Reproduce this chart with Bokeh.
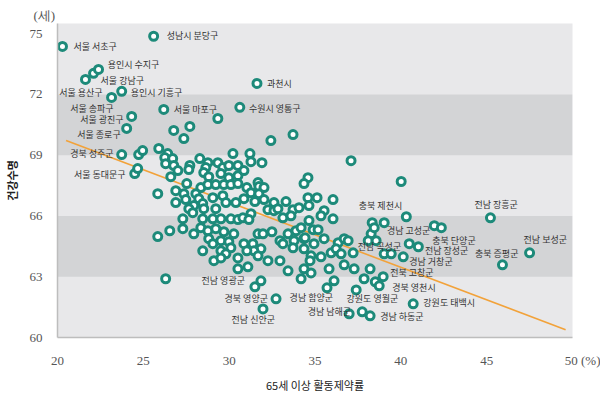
from bokeh.plotting import figure
from bokeh.models import Range1d, BoxAnnotation, ColumnDataSource, FixedTicker
from bokeh.embed import file_html
from bokeh.resources import INLINE
from bokeh.core.properties import value

# 65세 이상 활동제약률 (%)
x_rate = [
    20.29, 25.60, 21.63, 22.10, 22.39, 23.15, 23.74, 24.32, 24.03, 26.19, 30.62, 31.62,
    23.74, 24.50, 24.67, 24.73, 24.96, 25.90, 26.77, 27.71, 27.36, 29.34, 32.43, 33.72,
    37.10, 40.02, 34.59, 34.36, 40.32, 45.22, 41.95, 42.36, 47.50, 45.92, 40.72, 26.30,
    26.42, 26.25, 26.71, 26.30, 26.77, 27.01, 26.60, 27.71, 27.65, 28.29,
    28.76, 28.64, 28.52, 28.81, 29.34, 29.63, 29.98, 30.22, 30.51, 29.52,
    29.98, 30.51, 27.53, 28.35, 28.76, 29.22, 29.69, 30.10, 30.51, 25.84,
    26.89, 27.36, 26.89, 27.47, 28.06, 28.23, 28.46, 29.05, 29.63, 29.81,
    30.39, 27.94, 27.65, 28.52, 29.22, 27.88, 27.30, 28.46, 29.05, 29.52,
    30.10, 30.51,
    31.21, 31.27, 31.91, 30.86, 31.03, 31.68, 31.73, 32.03, 31.27, 31.73,
    30.86, 31.50, 32.03, 32.61, 33.31, 34.59, 35.12, 36.05, 32.26, 32.61,
    32.84, 33.72, 34.07, 34.65, 35.53, 31.27, 30.80, 31.15, 33.13, 33.60,
    35.35, 36.05, 34.65, 38.33, 39.03,
    25.84, 26.54, 27.30, 27.94, 28.35, 28.76, 29.22, 29.69, 28.81, 29.05,
    28.46, 29.52, 29.98, 30.10, 29.52, 29.81, 29.11, 29.52, 30.51, 30.51, 30.27,
    31.68, 31.97, 32.49, 33.43, 33.89, 34.89, 35.18, 34.19,
    30.86, 31.38, 31.85, 31.44, 31.68, 31.03, 32.26,
    32.96, 33.13, 33.78, 33.72, 34.36, 34.36, 34.77, 34.71, 35.35, 34.94, 35.94, 36.35, 36.23,
    31.09, 32.96, 33.43, 34.36, 34.77, 35.82, 34.19,
    31.50, 31.85, 32.73, 31.97, 35.70, 36.11,
    36.70, 36.93, 38.27, 38.45, 38.10, 38.56, 39.03, 39.44, 40.14, 40.49, 41.02,
    36.70, 37.28, 38.21, 37.86, 38.51, 38.97, 38.74, 37.40,
    36.99, 37.75, 38.21,
    36.52, 34.42, 35.53, 37.22,
]

# 건강수명 (세)
y_life = [
    74.37, 74.87, 72.74, 73.04, 73.23, 71.85, 72.15, 70.91, 70.32, 71.26, 71.36, 72.54,
    69.03, 68.09, 68.34, 69.03, 69.23, 69.33, 70.22, 70.42, 69.82, 70.81, 69.72, 70.02,
    68.73, 67.70, 67.89, 67.60, 65.96, 65.91, 65.52, 65.42, 64.18, 63.59, 61.66, 62.90,
    69.08, 68.88, 68.83, 68.58, 68.49, 68.24, 67.94, 68.49, 68.29, 68.83,
    68.63, 68.39, 68.14, 67.94, 68.63, 68.39, 68.49, 69.08, 68.49, 68.09,
    67.89, 67.99, 67.60, 67.40, 67.55, 67.55, 67.55, 67.55, 67.60, 67.10,
    67.25, 67.10, 66.66, 66.81, 67.10, 66.85, 66.61, 66.90, 67.00, 66.66,
    66.66, 66.51, 66.36, 66.36, 66.36, 66.16, 65.86, 65.86, 65.86, 65.86,
    65.86, 65.82,
    69.08, 68.68, 68.63, 68.24, 67.40, 67.65, 67.45, 67.40, 67.15, 67.10,
    66.85, 66.71, 66.81, 66.66, 66.71, 66.90, 66.90, 66.81, 66.31, 66.26,
    66.36, 66.31, 66.41, 66.51, 66.26, 66.11, 65.91, 65.82, 65.91, 66.01,
    66.01, 65.86, 65.77, 65.67, 65.67,
    64.98, 65.27, 65.37, 65.12, 65.42, 65.27, 65.37, 65.22, 64.88, 64.63,
    64.28, 64.78, 64.73, 64.43, 64.28, 64.13, 63.79, 63.93, 63.93, 63.39, 65.12,
    65.12, 65.12, 65.22, 65.12, 65.27, 65.32, 65.32, 65.42,
    64.63, 64.63, 64.38, 64.28, 64.03, 64.28, 63.79,
    64.78, 64.63, 64.78, 64.43, 64.88, 64.38, 64.03, 63.79, 63.98, 64.63, 64.18, 64.68, 64.38,
    63.49, 63.79, 63.29, 63.39, 63.19, 63.39, 62.90,
    62.50, 62.80, 61.91, 61.41, 62.45, 62.80,
    64.88, 64.78, 65.12, 65.42, 64.78, 64.78, 64.13, 64.13, 63.98, 64.63, 64.48,
    63.59, 63.39, 63.39, 62.90, 62.75, 63.00, 62.55, 62.35,
    61.17, 61.27, 61.07,
    64.13, 64.93, 64.88, 64.18,
]

# trend line end points
trend_x = [20.5, 49.6]
trend_y = [69.73, 60.38]

# region labels (left-anchored)
lab_l_text = ["서울 서초구", "성남시 분당구", "용인시 수지구", "서울 강남구", "용인시 기흥구",
              "서울 마포구", "수원시 영통구", "과천시", "전남 장흥군", "충북 단양군",
              "전남 보성군", "경남 거창군", "전북 고창군", "경북 영천시", "강원도 태백시",
              "경남 하동군"]
lab_l_x = [20.93, 26.36, 22.92, 22.51, 24.26, 26.77, 31.15, 32.20, 44.29, 41.83,
           47.15, 40.49, 39.38, 39.50, 41.31, 38.80]
lab_l_y = [74.37, 74.92, 73.48, 72.69, 72.10, 71.26, 71.31, 72.54, 66.56, 64.78,
           64.83, 63.74, 63.19, 62.45, 61.71, 61.02]

# region labels (right-anchored)
lab_r_text = ["서울 용산구", "서울 송파구", "서울 광진구", "서울 종로구", "경북 성주군",
              "서울 동대문구", "충북 제천시", "경남 고성군", "전남 곡성군", "전남 장성군",
              "충북 증평군", "경남 함양군", "강원도 영월군", "경남 남해군", "전남 영광군",
              "경북 영양군", "전남 신안군"]
lab_r_x = [22.63, 23.27, 23.85, 23.68, 23.27, 23.97, 40.08, 41.72, 40.02, 43.93,
           46.85, 36.05, 39.85, 37.10, 30.92, 32.26, 32.67]
lab_r_y = [72.10, 71.31, 70.76, 70.02, 69.08, 68.04, 66.51, 65.27, 64.48, 64.28,
           64.13, 61.96, 61.91, 61.27, 62.80, 61.91, 60.87]

x_ticks = [20, 25, 30, 35, 40, 45, 50]
y_ticks = [60, 63, 66, 69, 72, 75]
band_ranges = [(63, 66), (69, 72)]
x_title = "65세 이상 활동제약률"
y_title = "건강수명"
y_unit = "(세)"
x_unit = "(%)"

TEAL = "#1d8a7a"
ORANGE = "#f2a23a"
KFONT = "Noto Sans CJK KR"
NFONT = "Liberation Sans Narrow"

p = figure(width=600, height=397, output_backend="svg", toolbar_location=None,
           x_range=Range1d(20, 50), y_range=Range1d(60, 75.5), title=y_unit,
           min_border_left=57, min_border_right=28, min_border_top=23, min_border_bottom=60)
p.background_fill_color = "#e8e8ea"
p.border_fill_color = "white"
p.outline_line_color = None
p.xgrid.visible = False
p.ygrid.visible = False

# unit "(세)" above the y tick labels
p.title.align = "left"
p.title.offset = -24
p.title.standoff = 1
p.title.text_font = NFONT
p.title.text_font_size = "13px"
p.title.text_font_style = "normal"
p.title.text_color = "#555555"

for lo, hi in band_ranges:
    p.add_layout(BoxAnnotation(bottom=lo, top=hi, fill_color="#d3d4d6", fill_alpha=1,
                               line_color=None, level="underlay"))

p.line(trend_x, trend_y, line_color=ORANGE, line_width=1.6)

src = ColumnDataSource(dict(x=x_rate, y=y_life))
p.scatter("x", "y", source=src, marker="circle", size=8, line_width=3,
          line_color=TEAL, fill_color="white")

sl = ColumnDataSource(dict(x=lab_l_x, y=lab_l_y, t=lab_l_text))
p.text("x", "y", text="t", source=sl, text_align="left", text_baseline="middle",
       text_font=value(KFONT), text_font_size="9px", text_color="#333333")
sr = ColumnDataSource(dict(x=lab_r_x, y=lab_r_y, t=lab_r_text))
p.text("x", "y", text="t", source=sr, text_align="right", text_baseline="middle",
       text_font=value(KFONT), text_font_size="9px", text_color="#333333")

for ax in (p.xaxis[0], p.yaxis[0]):
    ax.major_tick_line_color = None
    ax.minor_tick_line_color = None
    ax.axis_line_color = "#bdbdbd"
    ax.axis_line_width = 1.5
    ax.major_label_text_font = NFONT
    ax.major_label_text_font_size = "13px"
    ax.major_label_text_color = "#555555"
    ax.axis_label_text_font = KFONT
    ax.axis_label_text_font_size = "11px"
    ax.axis_label_text_color = "#222222"

p.xaxis.ticker = FixedTicker(ticks=x_ticks)
p.yaxis.ticker = FixedTicker(ticks=y_ticks)
p.xaxis.major_label_standoff = 9
p.yaxis.major_label_standoff = 9
# keep "50" centred on its tick and let the unit follow it
pad = "\u00a0" * 7
p.xaxis.major_label_overrides = {50: pad + "50 " + x_unit}

p.xaxis.axis_label = x_title
p.xaxis.axis_label_standoff = 6
p.xaxis.axis_label_text_font_style = "normal"
p.yaxis.axis_label = y_title
p.yaxis.axis_label_standoff = 7
p.yaxis.axis_label_text_font_style = "bold"

open("out.html", "w").write(file_html(p, INLINE))
